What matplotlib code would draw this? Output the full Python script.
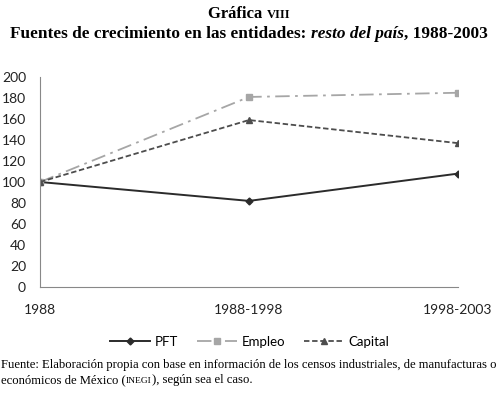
import matplotlib
matplotlib.use('Agg')
import matplotlib.pyplot as plt

categories = ['1988', '1988-1998', '1998-2003']
pft = [100, 82, 108]
empleo = [100, 181, 185]
capital = [100, 159, 137]
yticks = list(range(0, 201, 20))

W, H = 498, 395
fig = plt.figure(figsize=(W / 100, H / 100), dpi=100)
ax = fig.add_axes([40 / W, 1 - 287 / H, 418 / W, 210 / H])

x = range(len(categories))
ax.plot(x, pft, color='#2b2b2b', lw=1.4, marker='D', ms=3.5, label='PFT')
ax.plot(x, empleo, color='#a6a6a6', lw=1.3, ls=(0, (8, 3, 1.5, 3)), marker='s', ms=5, label='Empleo')
ax.plot(x, capital, color='#4d4d4d', lw=1.3, ls=(0, (3, 1.5)), marker='^', ms=5, label='Capital')

ax.set_xlim(0, 2)
ax.set_ylim(0, 200)
ax.set_yticks(yticks)
ax.set_xticks(list(x))
ax.set_xticklabels(categories)
for s in ['top', 'right']:
    ax.spines[s].set_visible(False)
for s in ['left', 'bottom']:
    ax.spines[s].set_color('#888888')
    ax.spines[s].set_linewidth(0.8)
ax.tick_params(length=0, labelsize=10, colors='#222222', pad=10)
ax.tick_params(axis='x', pad=12)
for t in ax.get_xticklabels() + ax.get_yticklabels():
    t.set_family('Lato')

leg = ax.legend(loc='center', bbox_to_anchor=(250 / W, 1 - 342 / H), bbox_transform=fig.transFigure,
                ncol=3, frameon=False, prop={'family': 'Lato', 'size': 9.5},
                handlelength=3, columnspacing=1.4, handletextpad=0.4)

fig.canvas.draw()
r = fig.canvas.get_renderer()


def line_of(pieces, y, x0=None, center=None):
    # pieces: list of (text, kwargs); draw side by side
    texts = []
    for s, kw in pieces:
        texts.append(fig.text(0, 1 - y / H, s, va='baseline', ha='left', family='Liberation Serif', **kw))
    widths = [t.get_window_extent(r).width for t in texts]
    pos = x0 if x0 is not None else center - sum(widths) / 2
    for t, w in zip(texts, widths):
        t.set_x(pos / W)
        pos += w


line_of([('Gráfica ', dict(size=12, weight='bold')), ('VIII', dict(size=9, weight='bold'))], 18, center=249)
line_of([('Fuentes de crecimiento en las entidades: ', dict(size=12.4, weight='bold')),
         ('resto del país', dict(size=12.4, weight='bold', style='italic')),
         (', 1988-2003', dict(size=12.4, weight='bold'))], 38, center=249)
line_of([('Fuente: Elaboración propia con base en información de los censos industriales, de manufacturas o',
          dict(size=9.1))], 368, x0=1)
line_of([('económicos de México (', dict(size=9.1)), ('INEGI', dict(size=6.8)),
         ('), según sea el caso.', dict(size=9.1))], 383, x0=1)

fig.savefig('out.png', dpi=100)
